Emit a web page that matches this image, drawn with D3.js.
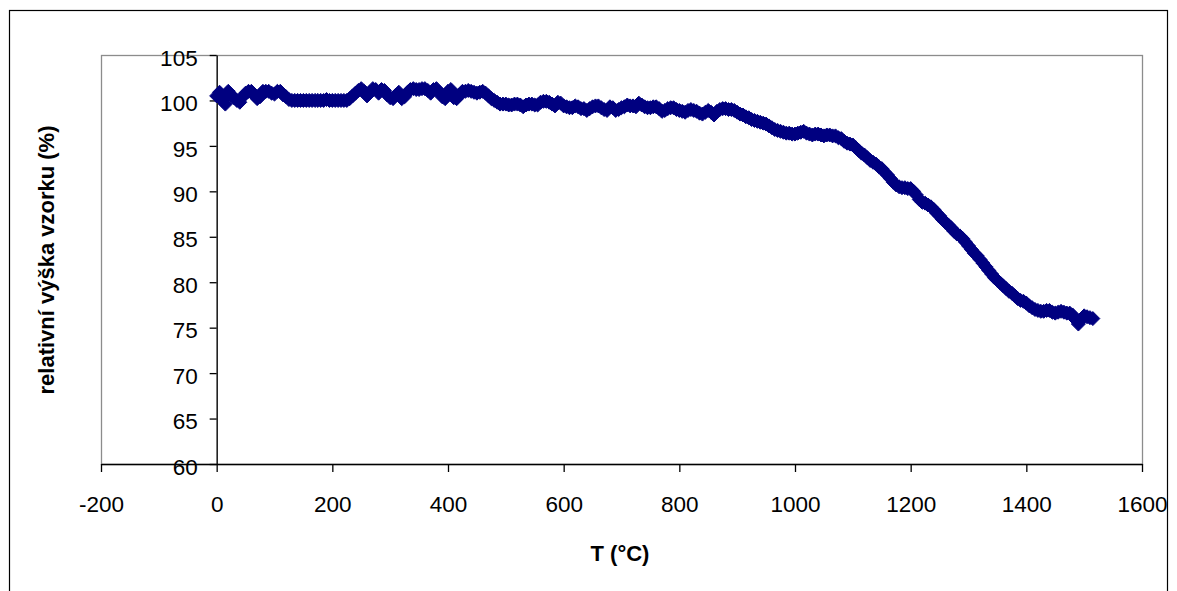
<!DOCTYPE html>
<html>
<head>
<meta charset="utf-8">
<script src="https://cdn.jsdelivr.net/npm/d3@7"></script>
<style>
  html, body { margin: 0; padding: 0; background: #ffffff; }
  svg { display: block; }
  text { font-family: "Liberation Sans", Arial, sans-serif; fill: #000; }
</style>
</head>
<body>
<svg id="chart" width="1177" height="591"></svg>
<script>
// Temperature (°C)
const temperature = [
  0, 5, 10, 15, 20, 25, 30, 35, 40, 45, 50, 55, 60, 65, 70, 75, 80, 85, 90, 95,
  100, 105, 110, 115, 120, 125, 130, 135, 140, 145, 150, 155, 160, 165, 170, 175, 180, 185, 190, 195,
  200, 205, 210, 215, 220, 225, 230, 235, 240, 245, 250, 255, 260, 265, 270, 275, 280, 285, 290, 295,
  300, 305, 310, 315, 320, 325, 330, 335, 340, 345, 350, 355, 360, 365, 370, 375, 380, 385, 390, 395,
  400, 405, 410, 415, 420, 425, 430, 435, 440, 445, 450, 455, 460, 465, 470, 475, 480, 485, 490, 495,
  500, 505, 510, 515, 520, 525, 530, 535, 540, 545, 550, 555, 560, 565, 570, 575, 580, 585, 590, 595,
  600, 605, 610, 615, 620, 625, 630, 635, 640, 645, 650, 655, 660, 665, 670, 675, 680, 685, 690, 695,
  700, 705, 710, 715, 720, 725, 730, 735, 740, 745, 750, 755, 760, 765, 770, 775, 780, 785, 790, 795,
  800, 805, 810, 815, 820, 825, 830, 835, 840, 845, 850, 855, 860, 865, 870, 875, 880, 885, 890, 895,
  900, 905, 910, 915, 920, 925, 930, 935, 940, 945, 950, 955, 960, 965, 970, 975, 980, 985, 990, 995,
  1000, 1005, 1010, 1015, 1020, 1025, 1030, 1035, 1040, 1045, 1050, 1055, 1060, 1065, 1070, 1075, 1080, 1085, 1090, 1095,
  1100, 1105, 1110, 1115, 1120, 1125, 1130, 1135, 1140, 1145, 1150, 1155, 1160, 1165, 1170, 1175, 1180, 1185, 1190, 1195,
  1200, 1205, 1210, 1215, 1220, 1225, 1230, 1235, 1240, 1245, 1250, 1255, 1260, 1265, 1270, 1275, 1280, 1285, 1290, 1295,
  1300, 1305, 1310, 1315, 1320, 1325, 1330, 1335, 1340, 1345, 1350, 1355, 1360, 1365, 1370, 1375, 1380, 1385, 1390, 1395,
  1400, 1405, 1410, 1415, 1420, 1425, 1430, 1435, 1440, 1445, 1450, 1455, 1460, 1465, 1470, 1475, 1480, 1485, 1490, 1495,
  1500, 1505, 1510, 1515
];
// Relative sample height (%)
const relHeight = [
  100.5, 100.9, 100.0, 99.6, 101.0, 100.6, 100.3, 100.0, 99.8, 100.4, 100.8, 101.0, 101.0, 100.6, 100.2, 100.4, 101.0, 101.0, 101.0, 100.8,
  100.7, 101.0, 101.0, 100.6, 100.4, 100.1, 100.0, 100.0, 100.0, 100.0, 100.0, 100.0, 100.0, 100.0, 100.0, 100.0, 100.0, 100.0, 100.1, 100.0,
  100.0, 100.0, 100.0, 100.0, 100.0, 100.0, 100.2, 100.5, 100.8, 101.1, 101.3, 101.0, 100.5, 100.9, 101.3, 101.2, 100.8, 101.2, 101.1, 100.6,
  100.3, 100.2, 100.6, 100.9, 100.2, 100.4, 100.9, 101.2, 101.3, 101.2, 101.2, 101.3, 101.3, 101.1, 100.8, 101.2, 101.3, 100.9, 100.4, 100.2,
  101.0, 101.2, 100.3, 100.2, 100.6, 101.0, 101.0, 101.1, 101.0, 100.9, 100.8, 100.9, 101.0, 100.8, 100.5, 100.2, 100.0, 99.8, 99.6, 99.6,
  99.6, 99.5, 99.5, 99.6, 99.6, 99.5, 99.3, 99.5, 99.6, 99.6, 99.5, 99.5, 99.8, 99.9, 99.9, 99.8, 99.6, 99.4, 99.8, 99.7,
  99.4, 99.3, 99.2, 99.2, 99.4, 99.3, 99.1, 99.1, 98.9, 99.1, 99.3, 99.4, 99.4, 99.2, 99.0, 98.9, 99.3, 99.2, 98.9, 99.0,
  99.2, 99.3, 99.5, 99.4, 99.4, 99.3, 99.7, 99.5, 99.3, 99.2, 99.2, 99.3, 99.3, 99.1, 98.8, 98.9, 99.1, 99.2, 99.2, 99.0,
  98.9, 98.8, 98.7, 98.9, 99.0, 98.9, 98.8, 98.6, 98.5, 98.7, 98.9, 98.7, 98.4, 98.8, 99.0, 99.1, 99.1, 99.0, 99.0, 98.9,
  98.7, 98.5, 98.4, 98.2, 98.1, 97.9, 97.8, 97.7, 97.6, 97.5, 97.4, 97.2, 97.0, 96.8, 96.7, 96.6, 96.5, 96.4, 96.4, 96.3,
  96.3, 96.4, 96.5, 96.6, 96.4, 96.3, 96.2, 96.3, 96.3, 96.2, 96.1, 96.2, 96.2, 96.1, 96.1, 95.9, 95.8, 95.5, 95.3, 95.2,
  95.1, 94.8, 94.5, 94.2, 94.0, 93.7, 93.4, 93.2, 93.0, 92.7, 92.5, 92.1, 91.8, 91.4, 91.0, 90.7, 90.5, 90.4, 90.4, 90.3,
  90.3, 90.0, 89.6, 89.1, 88.8, 88.7, 88.5, 88.3, 88.0, 87.6, 87.3, 86.9, 86.6, 86.3, 86.0, 85.6, 85.3, 85.1, 84.8, 84.4,
  84.0, 83.6, 83.2, 82.9, 82.5, 82.1, 81.7, 81.3, 80.9, 80.5, 80.2, 79.9, 79.6, 79.3, 79.0, 78.8, 78.5, 78.2, 78.0, 77.9,
  77.7, 77.4, 77.2, 77.0, 76.9, 76.8, 76.8, 76.9, 76.9, 76.7, 76.6, 76.7, 76.8, 76.7, 76.6, 76.6, 76.4, 75.9, 75.4, 75.9,
  76.3, 76.2, 76.1, 76.0
];
const xTicks = [-200, 0, 200, 400, 600, 800, 1000, 1200, 1400, 1600];
const yTicks = [60, 65, 70, 75, 80, 85, 90, 95, 100, 105];

const svg = d3.select("#chart");
const plot = { left: 101, right: 1142, top: 55, bottom: 464 };

const x = d3.scaleLinear().domain([-200, 1600]).range([plot.left, plot.right]);
const y = d3.scaleLinear().domain([60, 105]).range([plot.bottom, plot.top]);

// outer chart frame
svg.append("rect")
  .attr("x", 9.5).attr("y", 10.5)
  .attr("width", 1158).attr("height", 600)
  .attr("fill", "#fff").attr("stroke", "#000").attr("stroke-width", 1.2);

// plot area border
svg.append("rect")
  .attr("x", plot.left + 0.5).attr("y", plot.top + 0.5)
  .attr("width", plot.right - plot.left).attr("height", plot.bottom - plot.top)
  .attr("fill", "none").attr("stroke", "#8c8c8c").attr("stroke-width", 1.3);

const plain = d => String(d).replace("\u2212", "-");

// y axis crossing at T = 0
const yAxis = svg.append("g")
  .attr("transform", `translate(${x(0)},0)`)
  .call(d3.axisLeft(y).tickValues(yTicks).tickFormat(plain)
    .tickSize(7).tickSizeOuter(0).tickPadding(12));

// x axis crossing at 60 %
const xAxis = svg.append("g")
  .attr("transform", `translate(0,${y(60)})`)
  .call(d3.axisBottom(x).tickValues(xTicks).tickFormat(plain)
    .tickSize(8).tickSizeOuter(0).tickPadding(24));

[xAxis, yAxis].forEach(g => {
  g.select(".domain").attr("stroke", "#000").attr("stroke-width", 1.4);
  g.selectAll(".tick line").attr("stroke", "#000").attr("stroke-width", 1.3);
  g.selectAll(".tick text")
    .attr("fill", "#000")
    .style("font-size", "22.5px")
    .style("font-family", "'Liberation Sans', Arial, sans-serif");
});
yAxis.selectAll(".tick text").attr("dy", "0.45em");

// data markers (diamonds)
const diamond = d3.symbol().type(d3.symbolDiamond2).size(125);
svg.append("g")
  .selectAll("path")
  .data(temperature.map((t, i) => [t, relHeight[i]]))
  .join("path")
  .attr("transform", d => `translate(${x(d[0])},${y(d[1])})`)
  .attr("d", diamond)
  .attr("fill", "#000080")
  .attr("stroke", "#000080")
  .attr("stroke-width", 1);

// axis titles
svg.append("text")
  .attr("x", 620).attr("y", 561)
  .attr("text-anchor", "middle")
  .style("font-size", "22px").style("font-weight", "bold")
  .text("T (°C)");

svg.append("text")
  .attr("transform", "translate(54,260) rotate(-90)")
  .attr("text-anchor", "middle")
  .style("font-size", "22px").style("font-weight", "bold")
  .text("relativní výška vzorku (%)");
</script>
</body>
</html>
